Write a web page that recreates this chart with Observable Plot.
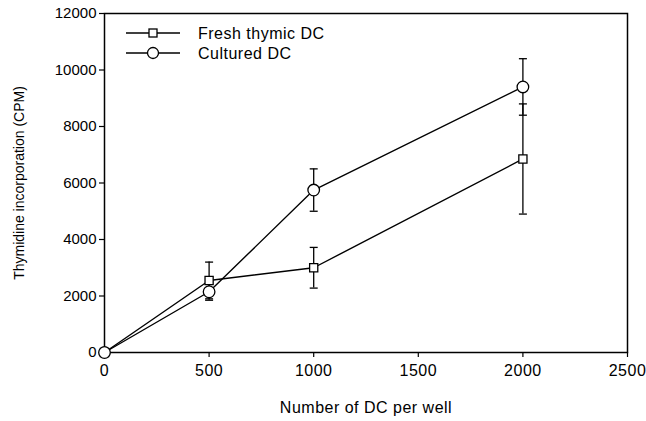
<!DOCTYPE html>
<html>
<head>
<meta charset="utf-8">
<script src="https://cdn.jsdelivr.net/npm/d3@7"></script>
<script src="https://cdn.jsdelivr.net/npm/@observablehq/plot@0.6"></script>
<style>
  html, body { margin: 0; padding: 0; background: #fff; }
  #wrap { position: relative; width: 646px; height: 421px; }
  #wrap svg { font-family: "Liberation Sans", Arial, Helvetica, sans-serif; }
  #legend { position: absolute; left: 0; top: 0; pointer-events: none; }
</style>
</head>
<body>
<div id="wrap"></div>
<script>
// ---- data ----
const dcPerWell = [0, 500, 1000, 2000];
const freshCPM = [0, 2550, 3000, 6850];
const freshErr = [0, 650, 720, 1950];
const culturedCPM = [0, 2150, 5750, 9400];
const culturedErr = [0, 300, 750, 1000];
const seriesNames = ["Fresh thymic DC", "Cultured DC"];
const xTicks = [0, 500, 1000, 1500, 2000, 2500];
const yTicks = [0, 2000, 4000, 6000, 8000, 10000, 12000];

const fresh = dcPerWell.map((x, i) => ({x, y: freshCPM[i], e: freshErr[i]}));
const cultured = dcPerWell.map((x, i) => ({x, y: culturedCPM[i], e: culturedErr[i]}));
const errs = [...fresh, ...cultured].filter(d => d.e > 0);

const capSymbol = {
  draw(context, size) {
    const w = Math.sqrt(size / Math.PI);
    context.moveTo(-w, 0);
    context.lineTo(w, 0);
  }
};

const chart = Plot.plot({
  width: 646,
  height: 421,
  marginLeft: 104,
  marginRight: 19,
  marginTop: 13,
  marginBottom: 69,
  style: {fontFamily: "Liberation Sans, Arial, sans-serif", fontSize: "16px", color: "#000", background: "#fff"},
  x: {domain: [0, 2500]},
  y: {domain: [0, 12000]},
  marks: [
    Plot.frame({stroke: "#000", strokeWidth: 1.5}),
    Plot.axisX({ticks: xTicks, tickSize: 5, tickPadding: 7, tickFormat: d => String(d),
      label: null, fontSize: 16, strokeWidth: 1.2}),
    Plot.axisX({ticks: [], label: "Number of DC per well", labelAnchor: "center", labelArrow: "none",
      labelOffset: 60, fontSize: 16}),
    Plot.axisY({ticks: yTicks, tickSize: 5, tickPadding: 3, tickFormat: d => String(d),
      label: null, fontSize: 15, strokeWidth: 1.2}),
    Plot.axisY({ticks: [], label: "Thymidine incorporation (CPM)", labelAnchor: "center", labelArrow: "none",
      labelOffset: 90, fontSize: 14}),
    Plot.line(fresh, {x: "x", y: "y", stroke: "#000", strokeWidth: 1.4}),
    Plot.line(cultured, {x: "x", y: "y", stroke: "#000", strokeWidth: 1.4}),
    Plot.ruleX(errs, {x: "x", y1: d => d.y - d.e, y2: d => d.y + d.e, stroke: "#000", strokeWidth: 1.3}),
    Plot.dot(errs, {x: "x", y: d => d.y - d.e, symbol: capSymbol, r: 4, stroke: "#000", fill: "none", strokeWidth: 1.3}),
    Plot.dot(errs, {x: "x", y: d => d.y + d.e, symbol: capSymbol, r: 4, stroke: "#000", fill: "none", strokeWidth: 1.3}),
    Plot.dot(fresh, {x: "x", y: "y", symbol: "square", r: 4.6, fill: "#fff", stroke: "#000", strokeWidth: 1.3}),
    Plot.dot(cultured, {x: "x", y: "y", symbol: "circle", r: 5.8, fill: "#fff", stroke: "#000", strokeWidth: 1.3})
  ]
});

const wrap = document.getElementById("wrap");
wrap.appendChild(chart);
d3.select(chart).selectAll("g[aria-label='x-axis tick label'] text, g[aria-label='x-axis label'] text")
  .style("letter-spacing", "0.5px");

// ---- legend overlay (inside plot area, top-left) ----
const lg = d3.select(wrap).append("svg")
  .attr("id", "legend").attr("width", 646).attr("height", 421)
  .style("font-family", "Liberation Sans, Arial, sans-serif").style("font-size", "16px");
const rows = [
  {name: seriesNames[0], sym: "square", y: 33},
  {name: seriesNames[1], sym: "circle", y: 53}
];
rows.forEach(r => {
  const g = lg.append("g");
  g.append("line").attr("x1", 126).attr("x2", 180).attr("y1", r.y).attr("y2", r.y)
    .attr("stroke", "#000").attr("stroke-width", 1.4);
  if (r.sym === "square") {
    g.append("rect").attr("x", 149).attr("y", r.y - 4).attr("width", 8).attr("height", 8)
      .attr("fill", "#fff").attr("stroke", "#000").attr("stroke-width", 1.3);
  } else {
    g.append("circle").attr("cx", 153).attr("cy", r.y).attr("r", 5.5)
      .attr("fill", "#fff").attr("stroke", "#000").attr("stroke-width", 1.3);
  }
  g.append("text").attr("x", 198).attr("y", r.y).attr("dy", "0.36em")
    .style("letter-spacing", "0.5px").text(r.name);
});
</script>
</body>
</html>
